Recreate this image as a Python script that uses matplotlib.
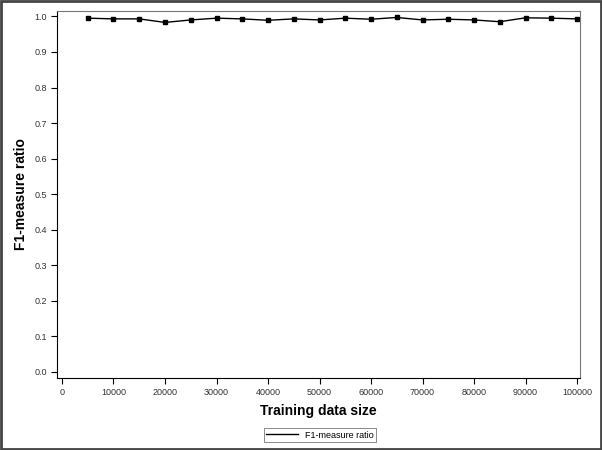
import matplotlib
matplotlib.use("Agg")
import matplotlib.pyplot as plt
from matplotlib.patches import Rectangle

plt.rcParams["font.family"] = ["Liberation Sans", "DejaVu Sans"]

sizes = [5000, 10000, 15000, 20000, 25000, 30000, 35000, 40000, 45000, 50000,
         55000, 60000, 65000, 70000, 75000, 80000, 85000, 90000, 95000, 100000]
f1_ratio = [0.995, 0.993, 0.993, 0.983, 0.990, 0.995, 0.993, 0.989, 0.993, 0.990,
            0.995, 0.992, 0.997, 0.990, 0.992, 0.990, 0.985, 0.996, 0.995, 0.993]
xticks = list(range(0, 100001, 10000))
yticks = [i / 10 for i in range(11)]

fig = plt.figure(figsize=(6.02, 4.5), dpi=100)
ax = fig.add_axes([57 / 602, 1 - 378 / 450, (580 - 57) / 602, (378 - 10.7) / 450])

ax.plot(sizes, f1_ratio, color="black", linewidth=1.0, marker="s", markersize=2.6,
        label="F1-measure ratio")

ax.set_xlim(-970, 100580)
ax.set_ylim(-0.017, 1.016)
ax.set_xticks(xticks)
ax.set_xticklabels([str(t) for t in xticks])
ax.set_yticks(yticks)
ax.set_yticklabels([f"{t:.1f}" for t in yticks])
ax.tick_params(labelsize=6.5, length=4, width=0.8, labelcolor="#333333", pad=3)

for s in ["left", "bottom"]:
    ax.spines[s].set_color("black")
for s in ["top", "right"]:
    ax.spines[s].set_color("#777777")

ax.set_xlabel("Training data size", fontsize=10, fontweight="bold", labelpad=5)
ax.set_ylabel("F1-measure ratio", fontsize=10, fontweight="bold", labelpad=5)

leg = ax.legend(loc="center", bbox_to_anchor=(320 / 602, 1 - 435 / 450),
                bbox_transform=fig.transFigure, fontsize=6.5, frameon=True,
                fancybox=False, handlelength=3.5, borderpad=0.3, markerscale=0)
leg.get_frame().set_edgecolor("#555555")
leg.get_frame().set_linewidth(0.6)
for h in leg.legend_handles:
    h.set_marker("")

fig.patches.append(Rectangle((0.002, 0.003), 0.996, 0.994, transform=fig.transFigure,
                             fill=False, edgecolor="#444444", linewidth=2))

fig.savefig("out.png", dpi=100)
